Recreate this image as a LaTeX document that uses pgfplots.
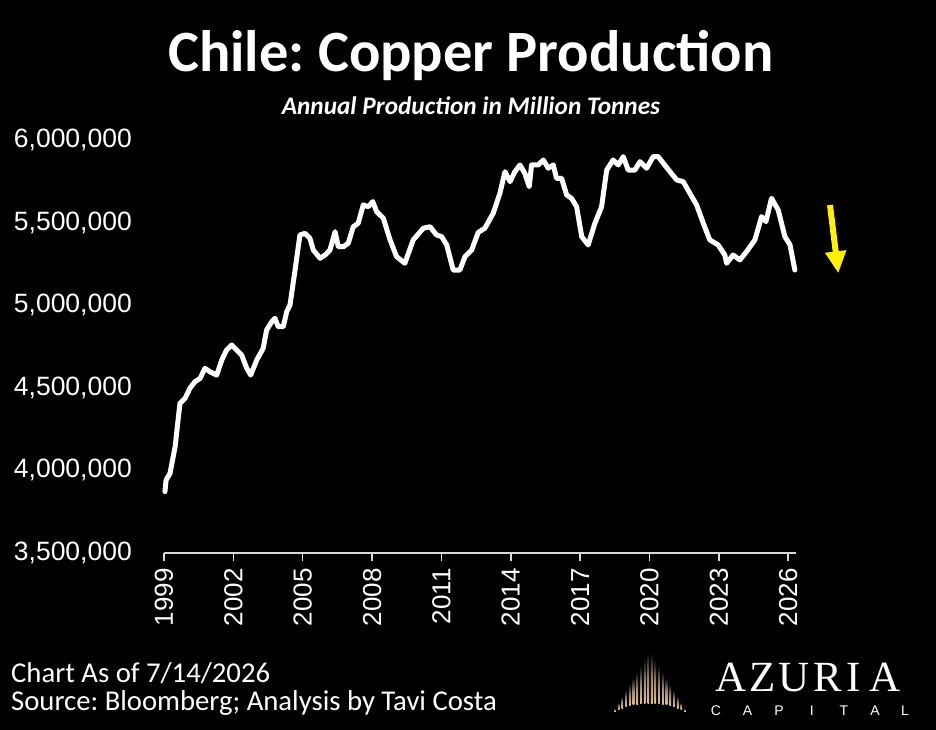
\documentclass[border=0pt]{standalone}
\usepackage{pgfplots}
\pgfplotsset{compat=1.18}
\usepackage{fontspec}
\setmainfont{Liberation Sans}
\newfontfamily\calibri{Carlito}
\newfontfamily\logoserif{Liberation Serif}
\usetikzlibrary{arrows.meta}
\definecolor{axgray}{RGB}{217,217,217}
\definecolor{arrowyellow}{RGB}{255,240,0}
\definecolor{gold}{RGB}{225,195,145}
\frenchspacing

\begin{document}
\begin{tikzpicture}
\fill[black] (0,0) rectangle (936pt,730pt);
\path[use as bounding box] (0,0) rectangle (936pt,730pt);

% Titles
\node[anchor=base, text=white, inner sep=0pt, font=\calibri\bfseries\fontsize{58.5}{58.5}\selectfont] at (471pt,658pt) {Chile: Copper Production};
\node[anchor=base, text=white, inner sep=0pt, font=\calibri\bfseries\itshape\fontsize{25.3}{25.3}\selectfont] at (471pt,615pt) {Annual Production in Million Tonnes};

\begin{axis}[
  at={(164pt,177pt)}, anchor=south west,
  scale only axis, width=632pt, height=413pt,
  xmin=1999, xmax=2026.34, ymin=3500000, ymax=6000000,
  clip=false,
  axis lines*=left,
  x axis line style={draw=axgray, line width=1.5pt},
  y axis line style={draw=none},
  xtick={1999,2002,2005,2008,2011,2014,2017,2020,2023,2026},
  xticklabels={1999,2002,2005,2008,2011,2014,2017,2020,2023,2026},
  ytick={3500000,4000000,4500000,5000000,5500000,6000000},
  yticklabels={{3,500,000},{4,000,000},{4,500,000},{5,000,000},{5,500,000},{6,000,000}},
  tick align=outside,
  major tick length=8pt,
  xtick style={draw=axgray, line width=1.5pt},
  ytick style={draw=none},
  xticklabel style={rotate=90, anchor=east, inner sep=0pt, text=white, font=\fontsize{26}{26}\selectfont, xshift=2pt},
  yticklabel style={anchor=east, inner sep=0pt, text=white, font=\fontsize{26.5}{26.5}\selectfont},
  xticklabel shift=9pt,
  yticklabel shift=24pt,
  scaled y ticks=false,
]
\addplot[white, line width=5pt, line join=round, line cap=round] table[row sep=\\] {
x y\\
1999.04 3871000\\
1999.09 3942000\\
1999.26 3982000\\
1999.48 4143000\\
1999.69 4406000\\
1999.91 4436000\\
2000.12 4497000\\
2000.34 4537000\\
2000.56 4557000\\
2000.77 4618000\\
2000.99 4597000\\
2001.28 4577000\\
2001.50 4668000\\
2001.71 4729000\\
2001.93 4759000\\
2002.14 4729000\\
2002.36 4698000\\
2002.58 4618000\\
2002.75 4577000\\
2003.01 4668000\\
2003.29 4739000\\
2003.44 4850000\\
2003.66 4900000\\
2003.80 4921000\\
2003.94 4870000\\
2004.16 4870000\\
2004.31 4961000\\
2004.45 5001000\\
2004.67 5213000\\
2004.88 5425000\\
2005.10 5435000\\
2005.31 5405000\\
2005.46 5334000\\
2005.75 5284000\\
2005.97 5304000\\
2006.18 5334000\\
2006.40 5445000\\
2006.54 5354000\\
2006.76 5354000\\
2006.97 5375000\\
2007.19 5475000\\
2007.40 5496000\\
2007.62 5607000\\
2007.84 5596000\\
2008.03 5627000\\
2008.20 5566000\\
2008.49 5526000\\
2008.78 5395000\\
2009.06 5294000\\
2009.42 5254000\\
2009.78 5395000\\
2010.22 5466000\\
2010.51 5475000\\
2010.79 5425000\\
2011.01 5415000\\
2011.23 5365000\\
2011.51 5213000\\
2011.80 5213000\\
2012.02 5294000\\
2012.31 5334000\\
2012.59 5440000\\
2012.88 5466000\\
2013.24 5556000\\
2013.53 5677000\\
2013.75 5808000\\
2013.97 5748000\\
2014.18 5808000\\
2014.40 5849000\\
2014.61 5798000\\
2014.80 5717000\\
2014.90 5849000\\
2015.19 5849000\\
2015.41 5879000\\
2015.62 5829000\\
2015.84 5849000\\
2015.98 5768000\\
2016.20 5768000\\
2016.42 5667000\\
2016.63 5647000\\
2016.85 5596000\\
2017.07 5415000\\
2017.35 5365000\\
2017.64 5496000\\
2017.93 5596000\\
2018.15 5818000\\
2018.43 5879000\\
2018.65 5849000\\
2018.87 5899000\\
2019.08 5818000\\
2019.37 5818000\\
2019.59 5869000\\
2019.88 5829000\\
2020.16 5899000\\
2020.38 5899000\\
2020.60 5859000\\
2020.89 5808000\\
2021.18 5758000\\
2021.46 5748000\\
2021.75 5677000\\
2022.04 5607000\\
2022.33 5496000\\
2022.61 5395000\\
2022.97 5365000\\
2023.26 5304000\\
2023.34 5254000\\
2023.62 5304000\\
2023.91 5274000\\
2024.20 5324000\\
2024.56 5395000\\
2024.85 5536000\\
2025.04 5506000\\
2025.28 5647000\\
2025.57 5576000\\
2025.86 5415000\\
2026.08 5365000\\
2026.29 5213000\\
};
\end{axis}

% yellow arrow
\draw[arrowyellow, line width=6pt, -{Triangle[width=20pt,length=22pt]}] (830pt,525pt) -- (838.3pt,456.7pt);

% footer
\node[anchor=base west, text=white, inner sep=0pt, font=\calibri\fontsize{28.7}{28.7}\selectfont] at (11pt,47pt) {Chart As of 7/14/2026};
\node[anchor=base west, text=white, inner sep=0pt, font=\calibri\fontsize{28.7}{28.7}\selectfont] at (11pt,19pt) {Source: Bloomberg; Analysis by Tavi Costa};

% logo mark
\foreach \dx in {-35,-31.3,-27.6,-23.9,-20.2,-16.5,-12.8,-9.1,-5.4,-1.7,1.7,5.4,9.1,12.8,16.5,20.2,23.9,27.6,31.3,35}{
  \pgfmathsetmacro{\ytop}{80-abs(\dx)*1.68}
  \pgfmathsetmacro{\ybot}{27-(\dx/37)^2*9}
  \pgfmathsetmacro{\xl}{650+\dx-0.8}
  \pgfmathsetmacro{\xr}{650+\dx+0.8}
  \shade[top color=black, bottom color=gold, middle color=gold!70!black] (\xl pt,\ybot pt) rectangle (\xr pt,\ytop pt);
}
% AZURIA
\foreach \l/\xx in {A/731,Z/762.5,U/794,R/827.5,I/854,A/885}{
  \node[anchor=base, text=white, inner sep=0pt, font=\logoserif\fontsize{43}{43}\selectfont] at (\xx pt,38pt) {\l};
}
\foreach \l/\xx in {C/716,A/747.5,P/779,I/811.7,T/844,A/875,L/905}{
  \node[anchor=base, text=white, inner sep=0pt, font=\fontsize{14}{14}\selectfont] at (\xx pt,14pt) {\l};
}
\end{tikzpicture}
\end{document}
